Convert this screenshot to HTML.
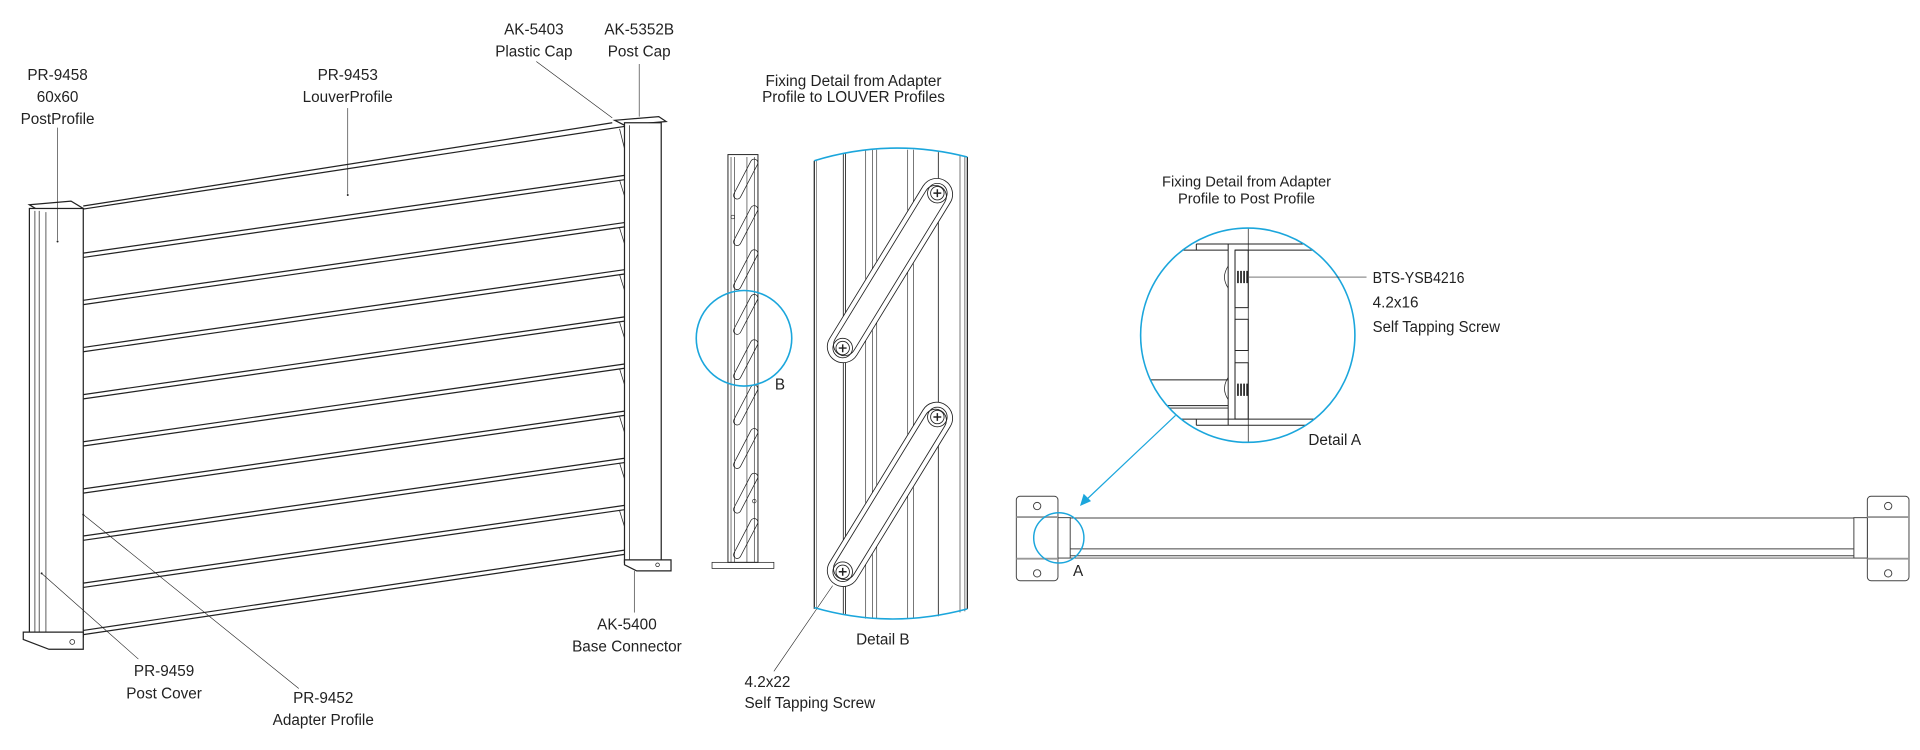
<!DOCTYPE html>
<html><head><meta charset="utf-8"><style>
html,body{margin:0;padding:0;background:#fff;}
svg{display:block;}
text{font-family:"Liberation Sans",sans-serif;fill:#222;}
</style></head><body>
<svg width="1920" height="750" viewBox="0 0 1568 612" xmlns="http://www.w3.org/2000/svg">
<g fill="none" stroke="#222" stroke-width="1">
<!-- left post -->
<polygon points="24,167 58,164 68,170 34,173" fill="#fff"/>
<rect x="24" y="170" width="44" height="350" fill="#fff"/>
<line x1="28.5" y1="172" x2="28.5" y2="520" stroke-width=".6"/>
<line x1="32" y1="172" x2="32" y2="520" stroke-width=".6"/>
<line x1="37.5" y1="173" x2="37.5" y2="520" stroke-width=".6"/>
<polygon points="19,516 68,516 68,530 40,530 19,522" fill="#fff"/>
<circle cx="59" cy="524" r="2" stroke-width=".6"/>
<!-- louvers -->
<line x1="68" y1="168" x2="500" y2="100"/>
<line x1="68" y1="170.5" x2="510" y2="103"/>
<g>
<line x1="68" y1="206.5" x2="510" y2="143"/><line x1="68" y1="210" x2="510" y2="146.5"/>
<line x1="68" y1="245" x2="510" y2="181.5"/><line x1="68" y1="248.5" x2="510" y2="185"/>
<line x1="68" y1="283.5" x2="510" y2="220"/><line x1="68" y1="287" x2="510" y2="223.5"/>
<line x1="68" y1="322" x2="510" y2="258.5"/><line x1="68" y1="325.5" x2="510" y2="262"/>
<line x1="68" y1="360.5" x2="510" y2="297"/><line x1="68" y1="364" x2="510" y2="300.5"/>
<line x1="68" y1="399" x2="510" y2="335.5"/><line x1="68" y1="402.5" x2="510" y2="339"/>
<line x1="68" y1="437.5" x2="510" y2="374"/><line x1="68" y1="441" x2="510" y2="377.5"/>
<line x1="68" y1="476" x2="510" y2="412.5"/><line x1="68" y1="479.5" x2="510" y2="416"/>
<line x1="68" y1="514.6" x2="510" y2="449"/><line x1="68" y1="518" x2="510" y2="452.5"/>
</g>
<g stroke-width=".6">
<line x1="506" y1="105" x2="511" y2="125"/><line x1="506" y1="147" x2="511" y2="163"/>
<line x1="506" y1="186" x2="511" y2="202"/><line x1="506" y1="224" x2="511" y2="240"/>
<line x1="506" y1="263" x2="511" y2="279"/><line x1="506" y1="301" x2="511" y2="317"/>
<line x1="506" y1="340" x2="511" y2="356"/><line x1="506" y1="378" x2="511" y2="394"/>
<line x1="506" y1="417" x2="511" y2="433"/>
</g>
<!-- right post -->
<polygon points="502,98 538,95 544,99 510,102" fill="#fff"/>
<rect x="510" y="100" width="30" height="359" fill="#fff"/>
<line x1="514" y1="102" x2="514" y2="459" stroke-width=".6"/>
<polygon points="510,457 548,457 548,466 520,466 510,461" fill="#fff"/>
<circle cx="537" cy="461" r="1.5" stroke-width=".6"/>
<!-- left leaders -->
<g stroke-width=".5">
<line x1="47" y1="104" x2="47" y2="196"/>
<line x1="284" y1="88" x2="284" y2="158"/>
<line x1="438" y1="50" x2="500" y2="96"/>
<line x1="522" y1="52" x2="522" y2="95"/>
<line x1="518" y1="466" x2="518" y2="500"/>
<line x1="34" y1="468" x2="113" y2="538"/>
<line x1="68" y1="420" x2="244" y2="562"/>
</g>
</g>
<g fill="#222">
<circle cx="47" cy="197" r=".8"/><circle cx="284" cy="159" r=".8"/><circle cx="68" cy="420" r=".8"/><circle cx="34" cy="468" r=".8"/>
</g>
<g font-size="12.5" text-anchor="middle">
<text x="47" y="65">PR-9458</text><text x="47" y="83">60x60</text><text x="47" y="101">PostProfile</text>
<text x="284" y="65">PR-9453</text><text x="284" y="83">LouverProfile</text>
<text x="436" y="28">AK-5403</text><text x="436" y="46">Plastic Cap</text>
<text x="522" y="28">AK-5352B</text><text x="522" y="46">Post Cap</text>
<text x="512" y="514">AK-5400</text><text x="512" y="532">Base Connector</text>
<text x="134" y="552">PR-9459</text><text x="134" y="570">Post Cover</text>
<text x="264" y="574">PR-9452</text><text x="264" y="592">Adapter Profile</text>
</g>

<!-- middle -->
<g font-size="12.5" text-anchor="middle">
<text x="697" y="70">Fixing Detail from Adapter</text>
<text x="697" y="83">Profile to LOUVER Profiles</text>
</g>
<g fill="none" stroke="#222" stroke-width=".8">
<rect x="594.5" y="126" width="24.5" height="333" fill="#fff"/>
<line x1="597" y1="128" x2="597" y2="459" stroke-width=".5"/>
<line x1="600" y1="128" x2="600" y2="459" stroke-width=".5"/>
<line x1="610" y1="128" x2="610" y2="459" stroke-width=".5"/>
<line x1="616" y1="128" x2="616" y2="459" stroke-width=".5"/>
<rect x="581.5" y="459" width="50.5" height="5" stroke-width=".6"/>
<g stroke-width=".6">
<g transform="translate(609,146) rotate(-62.5)"><rect x="-18" y="-3" width="36" height="6" rx="3"/></g>
<g transform="translate(609,184) rotate(-62.5)"><rect x="-18" y="-3" width="36" height="6" rx="3"/></g>
<g transform="translate(609,220) rotate(-62.5)"><rect x="-18" y="-3" width="36" height="6" rx="3"/></g>
<g transform="translate(609,256.5) rotate(-62.5)"><rect x="-18" y="-3" width="36" height="6" rx="3"/></g>
<g transform="translate(609,293.5) rotate(-62.5)"><rect x="-18" y="-3" width="36" height="6" rx="3"/></g>
<g transform="translate(609,330.5) rotate(-62.5)"><rect x="-18" y="-3" width="36" height="6" rx="3"/></g>
<g transform="translate(609,366) rotate(-62.5)"><rect x="-18" y="-3" width="36" height="6" rx="3"/></g>
<g transform="translate(609,402.5) rotate(-62.5)"><rect x="-18" y="-3" width="36" height="6" rx="3"/></g>
<g transform="translate(609,439.5) rotate(-62.5)"><rect x="-18" y="-3" width="36" height="6" rx="3"/></g>
</g>
<circle cx="598.5" cy="177" r="1.5" stroke-width=".5"/><circle cx="616" cy="409" r="1.5" stroke-width=".5"/>
</g>
<ellipse cx="607.6" cy="276" rx="39" ry="39" fill="none" stroke="#1ba6dc" stroke-width="1.3"/>
<text x="637" y="318" font-size="12.5" text-anchor="middle">B</text>

<!-- detail B -->
<g fill="none" stroke="#222" stroke-width=".7">
<line x1="665" y1="131" x2="665" y2="497" stroke-width="1"/>
<line x1="790" y1="128" x2="790" y2="497" stroke-width="1"/>
<line x1="667" y1="131" x2="667" y2="497" stroke-width=".4"/>
<line x1="688.7" y1="125" x2="688.7" y2="502"/>
<line x1="690.5" y1="125" x2="690.5" y2="502"/>
<line x1="707" y1="122" x2="707" y2="505" stroke-width=".5"/>
<line x1="712.4" y1="122" x2="712.4" y2="505" stroke-width=".5"/>
<line x1="716" y1="122" x2="716" y2="505" stroke-width=".5"/>
<line x1="741.3" y1="122" x2="741.3" y2="505" stroke-width=".5"/>
<line x1="745.9" y1="122" x2="745.9" y2="505" stroke-width=".5"/>
<line x1="766.3" y1="124" x2="766.3" y2="503"/>
<line x1="784" y1="126" x2="784" y2="500" stroke-width=".5"/>
<line x1="788" y1="127" x2="788" y2="499" stroke-width=".5"/>
<g transform="translate(726.8,220.7) rotate(-58.5)" fill="#fff">
<rect x="-86" y="-13" width="172" height="26" rx="13"/>
<rect x="-80" y="-9" width="160" height="18" rx="9"/>
</g>
<g transform="translate(726.8,403.5) rotate(-58.5)" fill="#fff">
<rect x="-86" y="-13" width="172" height="26" rx="13"/>
<rect x="-80" y="-9" width="160" height="18" rx="9"/>
</g>
<g>
<circle cx="688.2" cy="284" r="8"/><circle cx="688.2" cy="284" r="5.5"/><path d="M685 284h6.4M688.2 281v6.4" stroke-width="1.2"/>
<circle cx="765.5" cy="157.5" r="8"/><circle cx="765.5" cy="157.5" r="5.5"/><path d="M762.3 157.5h6.4M765.5 154.3v6.4" stroke-width="1.2"/>
<circle cx="688.2" cy="466.7" r="8"/><circle cx="688.2" cy="466.7" r="5.5"/><path d="M685 466.7h6.4M688.2 463.5v6.4" stroke-width="1.2"/>
<circle cx="765.5" cy="340.3" r="8"/><circle cx="765.5" cy="340.3" r="5.5"/><path d="M762.3 340.3h6.4M765.5 337.1v6.4" stroke-width="1.2"/>
</g>
<line x1="680" y1="478" x2="632" y2="548" stroke-width=".5"/>
</g>
<path d="M665 131 Q727 112 790 128" fill="none" stroke="#1ba6dc" stroke-width="1.3"/>
<path d="M665 496 Q727 514 790 497" fill="none" stroke="#1ba6dc" stroke-width="1.3"/>
<text x="721" y="526" font-size="12.5" text-anchor="middle">Detail B</text>
<text x="608" y="561" font-size="12.5">4.2x22</text>
<text x="608" y="578" font-size="12.5">Self Tapping Screw</text>

<!-- right: detail A -->
<g font-size="12" text-anchor="middle">
<text x="1018" y="152">Fixing Detail from Adapter</text>
<text x="1018" y="166">Profile to Post Profile</text>
</g>
<defs><clipPath id="ca"><circle cx="1019" cy="273.5" r="87.5"/></clipPath></defs>
<g clip-path="url(#ca)" fill="none" stroke="#222" stroke-width=".8">
<line x1="977" y1="199" x2="1070" y2="199"/>
<line x1="930" y1="204" x2="1003" y2="204"/>
<line x1="1008.6" y1="204" x2="1110" y2="204"/>
<line x1="977" y1="199" x2="977" y2="204"/>
<line x1="1003" y1="199" x2="1003" y2="347"/>
<line x1="1008.6" y1="204" x2="1008.6" y2="342"/>
<rect x="1008.6" y="204" width="10.8" height="47"/>
<rect x="1008.6" y="260.5" width="10.8" height="25.5"/>
<rect x="1008.6" y="296" width="10.8" height="46"/>
<line x1="930" y1="310" x2="1003" y2="310"/>
<line x1="930" y1="331" x2="1003" y2="331"/>
<line x1="930" y1="333" x2="1003" y2="333"/>
<line x1="930" y1="342" x2="1110" y2="342"/>
<line x1="977" y1="347" x2="1070" y2="347"/>
<line x1="977" y1="342" x2="977" y2="347"/>
<line x1="1019.4" y1="180" x2="1019.4" y2="370" stroke-width=".6"/>
<path d="M1003 217 q-6 9 0 18" stroke-width=".6"/>
<path d="M1003 308 q-6 9 0 18" stroke-width=".6"/>
<g stroke-width="1.4">
<path d="M1011 221v10M1013.5 221v10M1016 221v10M1018.5 221v10"/>
<path d="M1011 313v10M1013.5 313v10M1016 313v10M1018.5 313v10"/>
</g>
</g>
<circle cx="1019" cy="273.5" r="87.5" fill="none" stroke="#1ba6dc" stroke-width="1.3"/>
<line x1="1020" y1="226" x2="1116" y2="226" stroke="#222" stroke-width=".5"/>
<g font-size="12.5">
<text x="1121" y="231" textLength="75" lengthAdjust="spacingAndGlyphs">BTS-YSB4216</text>
<text x="1121" y="251">4.2x16</text>
<text x="1121" y="271" textLength="104" lengthAdjust="spacingAndGlyphs">Self Tapping Screw</text>
<text x="1090" y="363" text-anchor="middle">Detail A</text>
<text x="880.5" y="470" text-anchor="middle">A</text>
</g>
<line x1="960" y1="339" x2="886" y2="409" stroke="#1ba6dc" stroke-width="1"/>
<polygon points="882,413 885,403 891,409" fill="#1ba6dc"/>

<!-- bar -->
<g fill="#fff" stroke="#444" stroke-width=".8">
<rect x="830" y="405" width="34" height="69" rx="3"/>
<rect x="1525" y="405" width="34" height="69" rx="3"/>
<rect x="864" y="422.5" width="10" height="33"/>
<rect x="1514" y="422.5" width="11" height="33"/>
<line x1="874" y1="422.8" x2="1514" y2="422.8"/>
<line x1="874" y1="448" x2="1514" y2="448"/>
<line x1="874" y1="453.6" x2="1514" y2="453.6"/>
<line x1="874" y1="455.5" x2="1514" y2="455.5"/>
<line x1="830" y1="422" x2="864" y2="422" stroke="#999" stroke-width="1.5"/>
<line x1="830" y1="456" x2="864" y2="456" stroke="#999" stroke-width="1.5"/>
<line x1="1525" y1="422" x2="1559" y2="422" stroke="#999" stroke-width="1.5"/>
<line x1="1525" y1="456" x2="1559" y2="456" stroke="#999" stroke-width="1.5"/>
<circle cx="847" cy="413" r="3"/><circle cx="847" cy="468" r="3"/>
<circle cx="1542" cy="413" r="3"/><circle cx="1542" cy="468" r="3"/>
</g>
<circle cx="864.7" cy="439" r="20.5" fill="none" stroke="#1ba6dc" stroke-width="1.2"/>
</svg>
</body></html>
